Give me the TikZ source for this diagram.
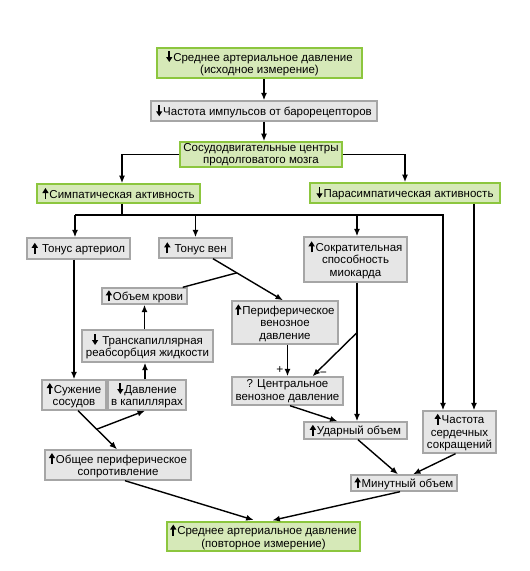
\documentclass[tikz,border=0pt]{standalone}
\usepackage{fontspec}
\setmainfont{Liberation Sans}
\usepackage{xcolor}
\usepackage{tikz}
\usetikzlibrary{
    positioning,
    arrows.meta,
    calc
}
\definecolor{boxgreen}{HTML}{D6E9B8}
\definecolor{edgegreen}{HTML}{8CC63E}
\definecolor{boxgrey}{HTML}{E6E6E6}
\definecolor{edgegrey}{HTML}{A6A6A6}
% small bold arrows in front of the labels
\newcommand{\upar}{\tikz[baseline=0pt]\draw[-{Triangle[length=5pt,width=6pt]}, line width=1.8pt] (0pt,-1pt) -- (0pt,10pt);\hspace{1pt}}
\newcommand{\dnar}{\tikz[baseline=0pt]\draw[-{Triangle[length=5pt,width=6pt]}, line width=1.8pt] (0pt,10pt) -- (0pt,-1pt);\hspace{1pt}}
\tikzset{
    greenbox/.style={
        rectangle, draw=edgegreen, line width=1.6pt, fill=boxgreen,
        align=center, inner sep=1pt, font=\fontsize{11.5}{12.5}\selectfont
    },
    greybox/.style={
        rectangle, draw=edgegrey, line width=1.4pt, fill=boxgrey,
        align=center, inner sep=1pt, font=\fontsize{11.5}{12.5}\selectfont
    },
    arrow/.style={
        -{Latex[length=7.5pt,width=6pt]}, line width=1.4pt, draw=black
    },
    link/.style={
        line width=1.4pt, draw=black
    },
    signlabel/.style={
        font=\fontsize{12}{12}\selectfont
    }
}
\begin{document}
\begin{tikzpicture}[x=1pt, y=-1pt]
        \useasboundingbox (0,0) rectangle (530,571);

        % Top of the reflex
        \node[greenbox, minimum width=205pt, minimum height=30pt] (map_start) at (259.5,63) {\dnar Среднее артериальное давление\\(исходное измерение)};
        \node[greybox, minimum width=226pt, minimum height=20pt] (baro) at (264,111) {\dnar Частота импульсов от барорецепторов};
        \node[greenbox, minimum width=162pt, minimum height=25pt] (centres) at (261,154.5) {Сосудодвигательные центры\\продолговатого мозга};

        % Autonomic branches
        \node[greenbox, minimum width=163pt, minimum height=19pt] (symp) at (118.5,193.5) {\upar Симпатическая активность};
        \node[greenbox, minimum width=190pt, minimum height=20pt] (parasymp) at (405,193) {\dnar Парасимпатическая активность};

        % Effectors
        \node[greybox, minimum width=103pt, minimum height=21pt] (arteriol) at (78.5,248.5) {\upar\ Тонус артериол};
        \node[greybox, minimum width=73pt, minimum height=20pt] (veins) at (195.5,248) {\upar\ Тонус вен};
        \node[greybox, minimum width=103pt, minimum height=45pt] (contract) at (355.5,259.5) {\upar Сократительная\\способность\\миокарда};
        \node[greybox, minimum width=85pt, minimum height=16pt] (blood_vol) at (144.5,296) {\upar Объем крови};
        \node[greybox, minimum width=106pt, minimum height=43pt] (pvp) at (285,322.5) {\upar Периферическое\\венозное\\давление};
        \node[greybox, minimum width=131pt, minimum height=32pt] (transcap) at (147.5,346) {\dnar\ Транскапиллярная\\реабсорбция жидкости};

        % Middle row
        \node[greybox, minimum width=64pt, minimum height=30pt] (constrict) at (74,395) {\upar Сужение\\сосудов};
        \node[greybox, minimum width=78pt, minimum height=30pt] (cap_press) at (147,395) {\dnar Давление\\в капиллярах};
        \node[greybox, minimum width=111pt, minimum height=28pt] (cvp) at (287.5,391) {? Центральное\\венозное давление};
        \node[greybox, minimum width=103pt, minimum height=17pt] (stroke) at (355.5,430.5) {\upar Ударный объем};
        \node[greybox, minimum width=73pt, minimum height=42pt] (heart_rate) at (459.5,432) {\upar Частота\\сердечных\\сокращений};

        % Output
        \node[greybox, minimum width=146pt, minimum height=30pt] (tpr) at (118,465) {\upar Общее периферическое\\сопротивление};
        \node[greybox, minimum width=106pt, minimum height=16pt] (cardiac_out) at (404,483) {\upar Минутный объем};
        \node[greenbox, minimum width=193pt, minimum height=29pt] (map_end) at (263.5,536.5) {\upar Среднее артериальное давление\\(повторное измерение)};

        % Bus under the sympathetic box
        \coordinate (bus) at (122,215);

        % Arrows
        \draw[arrow] (baro.north |- map_start.south) -- (baro.north);
        \draw[arrow] (baro.south) -- (baro.south |- centres.north);
        \draw[arrow] (centres.west) -| ([xshift=3.5pt]symp.north);
        \draw[arrow] (centres.east) -| (parasymp.north);
        \draw[link] (bus |- symp.south) -- (bus);
        \draw[arrow] ([xshift=-3.5pt]arteriol.north |- bus) -- ([xshift=-3.5pt]arteriol.north);
        \draw[arrow] (veins.north |- bus) -- (veins.north);
        \draw[arrow] ([xshift=1.5pt]contract.north |- bus) -- ([xshift=1.5pt]contract.north);
        \draw[arrow] ([xshift=-3.5pt]arteriol.north |- bus) -| ([xshift=-16.5pt]heart_rate.north);
        \draw[arrow] ([xshift=14.5pt]heart_rate.north |- parasymp.south) -- ([xshift=14.5pt]heart_rate.north);
        \draw[arrow] (constrict.north |- arteriol.south) -- (constrict.north);
        \draw[arrow] ([xshift=17.5pt]veins.south) -- coordinate[pos=0.34] (ven_split) ([xshift=-2pt]pvp.north);
        \draw[link] (ven_split) -- ([xshift=-5pt]blood_vol.north east);
        \draw[arrow] (blood_vol.south |- transcap.north) -- (blood_vol.south);
        \draw[arrow] ([xshift=-2pt]cap_press.north) -- ([xshift=-2pt]cap_press.north |- transcap.south);
        \draw[arrow] (cvp.north |- pvp.south) -- node[pos=0.8, left, signlabel] {+} (cvp.north);
        \draw[arrow] ([xshift=1.5pt]contract.south) -- coordinate[pos=0.36] (contr_split) ([xshift=1.5pt]contract.south |- stroke.north);
        \draw[arrow] (contr_split) -- node[pos=0.95, right=1pt, signlabel] {\textminus} ([xshift=25pt]cvp.north);
        \draw[arrow] ([xshift=4pt]constrict.south) -- coordinate[pos=0.48] (tpr_split) ([xshift=-1pt]tpr.north);
        \draw[arrow] (tpr_split) -- ([xshift=-2pt]cap_press.south);
        \draw[arrow] ([xshift=2.5pt]cvp.south) -- ([xshift=-18pt]stroke.north);
        \draw[arrow] ([xshift=2.5pt]stroke.south) -- ([xshift=-6pt]cardiac_out.north);
        \draw[arrow] ([xshift=-4pt]heart_rate.south) -- ([xshift=9pt]cardiac_out.north);
        \draw[arrow, shorten >=4pt] ([xshift=7pt]tpr.south) -- ([xshift=-6pt]map_end.north);
        \draw[arrow, shorten >=4pt] ([xshift=-4pt]cardiac_out.south) -- ([xshift=5pt]map_end.north);

    \end{tikzpicture}
\end{document}
